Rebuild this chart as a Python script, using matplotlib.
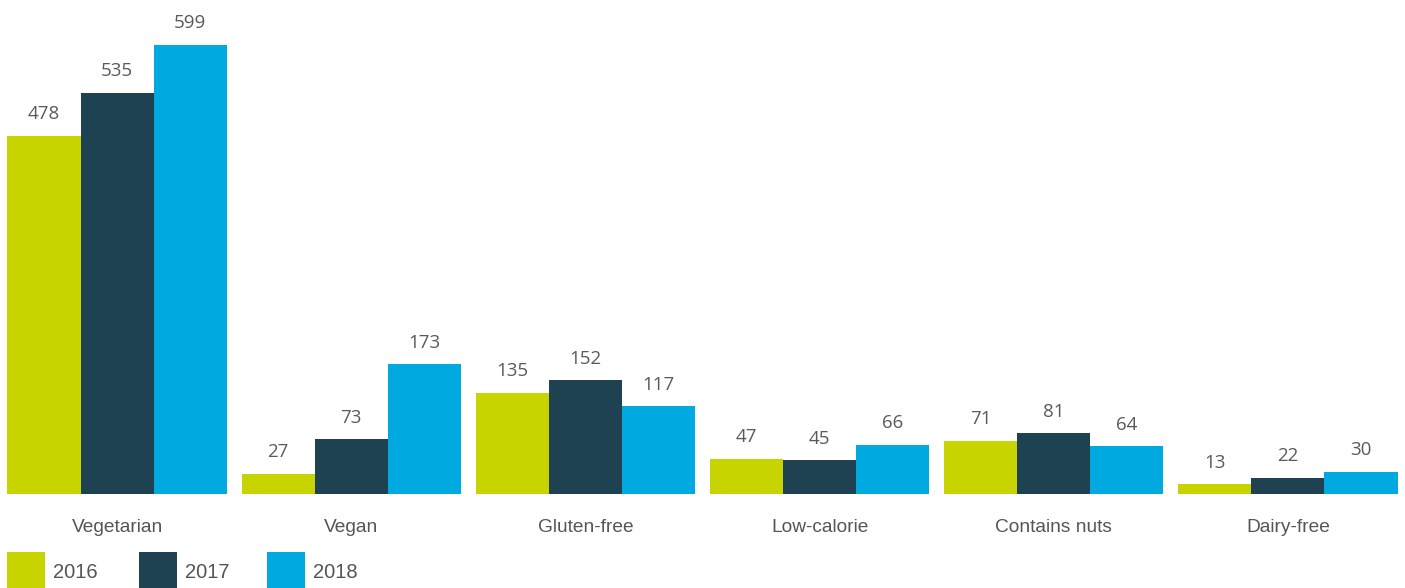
import matplotlib
matplotlib.use("Agg")
import matplotlib.pyplot as plt
from matplotlib.patches import Rectangle
import numpy as np

categories = ["Vegetarian", "Vegan", "Gluten-free", "Low-calorie", "Contains nuts", "Dairy-free"]
years = ["2016", "2017", "2018"]
values_2016 = [478, 27, 135, 47, 71, 13]
values_2017 = [535, 73, 152, 45, 81, 22]
values_2018 = [599, 173, 117, 66, 64, 30]

series = [values_2016, values_2017, values_2018]
colors = ["#C8D400", "#1F4252", "#00A9E0"]

W, H = 1405, 588
fig = plt.figure(figsize=(W / 100, H / 100), dpi=100)
ax = fig.add_axes([0, 94 / H, 1, 494 / H])

x = np.arange(len(categories))
bw = 0.312
for i, (vals, col) in enumerate(zip(series, colors)):
    xs = x + (i - 1) * bw
    bars = ax.bar(xs, vals, width=bw, color=col, linewidth=0)
    for b, v in zip(bars, vals):
        ax.annotate(str(v), (b.get_x() + b.get_width() / 2, b.get_height()),
                    xytext=(0, 9), textcoords="offset points",
                    ha="center", va="bottom", fontsize=13.5,
                    family="Open Sans", color="#5a5a5a")

ax.set_xlim(-0.5, len(categories) - 0.5)
ax.set_ylim(0, 659)
ax.axis("off")

# category labels under each group
for xi, cat in zip(x, categories):
    ax.text(xi, -33 * 659 / 494, cat, ha="center", va="center", fontsize=13.8,
            family="Liberation Sans", color="#555555")

# legend swatches along the bottom edge
sw_x = [7, 139, 267]
for sx, yr, col in zip(sw_x, years, colors):
    fig.patches.append(Rectangle((sx / W, 0), 38 / W, 36 / H, transform=fig.transFigure,
                                 color=col, linewidth=0))
    fig.text((sx + 46) / W, 15 / H, yr, ha="left", va="center", fontsize=14.5,
             family="Liberation Sans", color="#555555")

fig.savefig("out.png", dpi=100)
